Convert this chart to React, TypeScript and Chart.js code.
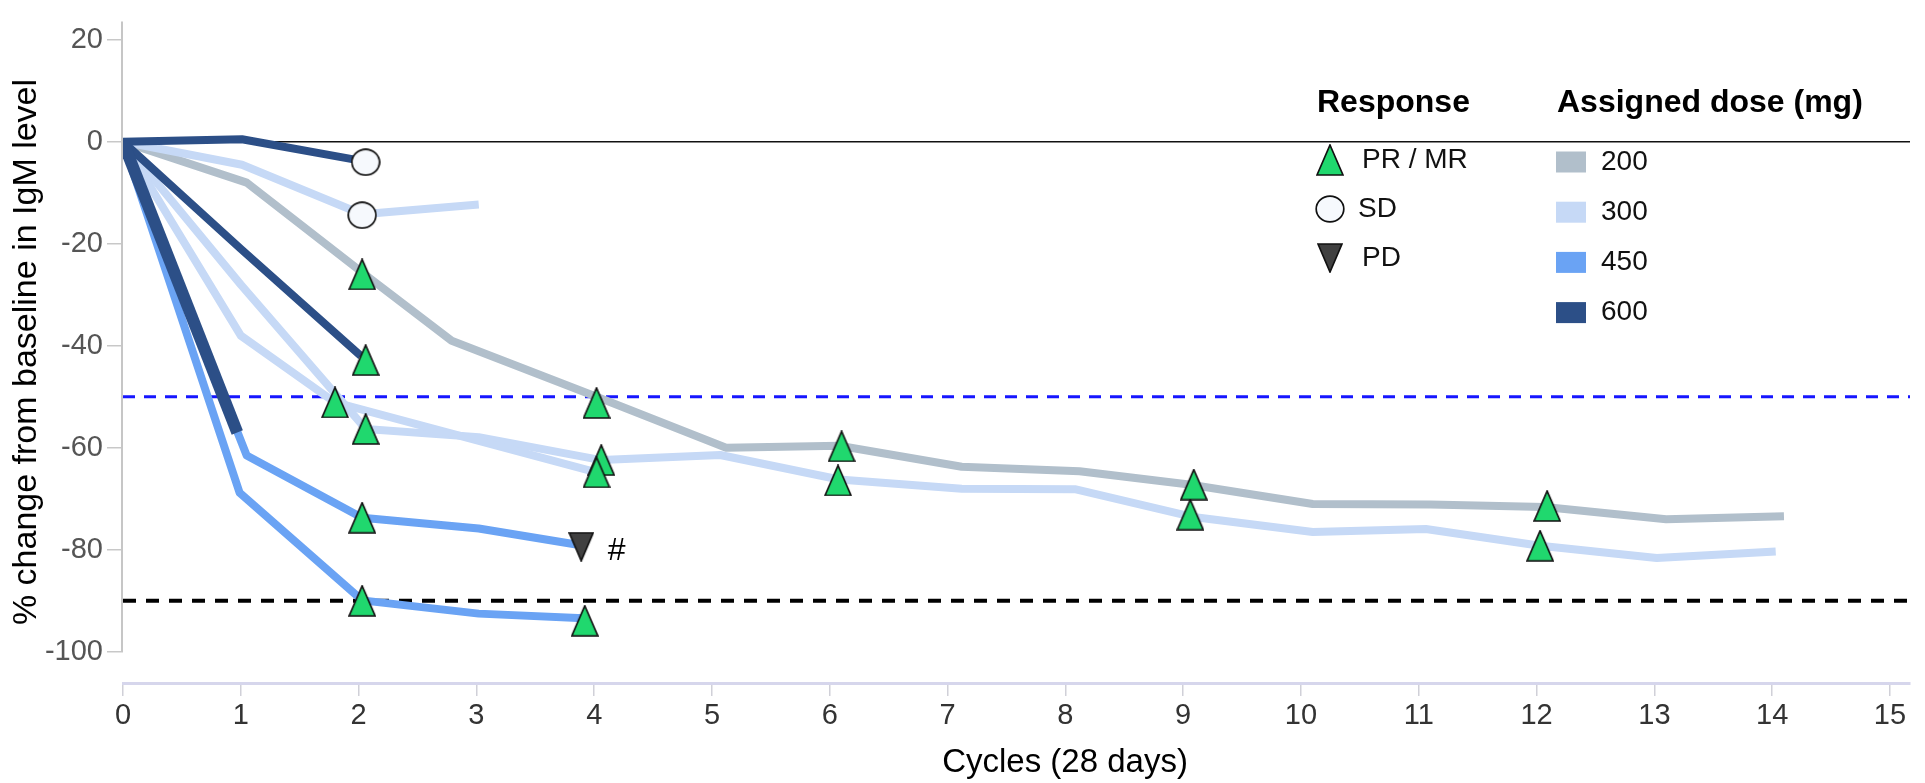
import React, { useEffect, useRef } from 'react';
import { Chart, registerables } from 'chart.js';

Chart.register(...registerables);

// ---------- data ----------
const X_TICKS = [0, 1, 2, 3, 4, 5, 6, 7, 8, 9, 10, 11, 12, 13, 14, 15];
const Y_TICKS = [-100, -80, -60, -40, -20, 0, 20];

const DOSE_LABELS = ['200', '300', '450', '600'];
const DOSE_COLORS = ['#b1bfcb', '#c6d9f6', '#6aa3f4', '#2c4f87'];
const RESPONSE_LABELS = ['PR / MR', 'SD', 'PD'];

// patient trajectories: [cycle, % change]
const D200_A = [[0, 0], [1.05, -8], [2.03, -25.6], [2.79, -39], [4.02, -50], [5.12, -60], [6.08, -59.6], [7.12, -63.7], [8.12, -64.6], [9.05, -67.2], [10.1, -71], [11.1, -71.1], [12.07, -71.6], [13.1, -74], [14.1, -73.4]];
const D300_A = [[0, 0], [1.01, -4.5], [2.03, -14.2], [3.02, -12.3]];
const D300_B = [[0, 0], [1, -38], [1.8, -51.1], [4.02, -64.8]];
const D300_C = [[0, 0], [1, -28], [2.06, -56.3], [3.02, -57.9], [4.06, -62.4], [5.07, -61.4], [6.08, -66.2], [7.12, -68], [8.08, -68.1], [9.07, -73.5], [10.1, -76.5], [11.06, -75.9], [12.03, -79.2], [13.02, -81.6], [14.03, -80.3]];
const D450_A = [[0, 0], [1.05, -61.5], [2.03, -73.7], [3.02, -75.8], [3.86, -79]];
const D450_B = [[0, 0], [0.99, -68.8], [2.03, -89.9], [3.02, -92.5], [3.91, -93.4]];
const D600_A = [[0, 0], [1.01, 0.5], [2.04, -3.8]];
const D600_B = [[0, 0], [1, -21], [2.02, -42]];
const D600_C = [[0, 0], [0.97, -57]];

// response markers
const PR_POINTS = [[2.03, -26], [2.06, -42.8], [1.8, -51.1], [2.06, -56.3], [2.03, -73.7], [2.03, -90], [4.02, -51.2], [4.06, -62.4], [4.02, -64.8], [3.92, -93.9], [6.1, -59.7], [6.07, -66.4], [9.09, -67.2], [9.06, -73.1], [12.09, -71.4], [12.03, -79.2]];
const SD_POINTS = [[2.06, -4], [2.03, -14.4]];
const PD_POINTS = [[3.89, -79.4]];
const HASH_POINT = [4.19, -80.3];

// reference levels
const REF_LEVELS = [0, -50, -90];

const FONT = "'Liberation Sans', Arial, Helvetica, sans-serif";

const toXY = (arr: number[][]) => arr.map(([x, y]) => ({ x, y }));

function makeTriangle(up: boolean, fill: string, w: number, h: number) {
  const c = document.createElement('canvas');
  c.width = w;
  c.height = h;
  const g = c.getContext('2d')!;
  g.beginPath();
  if (up) {
    g.moveTo(w / 2, 1);
    g.lineTo(w - 1, h - 1);
    g.lineTo(1, h - 1);
  } else {
    g.moveTo(1, 1);
    g.lineTo(w - 1, 1);
    g.lineTo(w / 2, h - 1);
  }
  g.closePath();
  g.fillStyle = fill;
  g.fill();
  g.lineWidth = 1.7;
  g.strokeStyle = '#111';
  g.stroke();
  return c;
}

function makeCircle(w: number, h: number) {
  const c = document.createElement('canvas');
  c.width = w;
  c.height = h;
  const g = c.getContext('2d')!;
  g.beginPath();
  g.ellipse(w / 2, h / 2, w / 2 - 1.2, h / 2 - 1.2, 0, 0, Math.PI * 2);
  g.fillStyle = '#f6f9fd';
  g.fill();
  g.lineWidth = 1.7;
  g.strokeStyle = '#111';
  g.stroke();
  return c;
}

export default function App() {
  const ref = useRef<HTMLCanvasElement>(null);

  useEffect(() => {
    document.body.style.margin = '0';
    const canvas = ref.current!;
    const triUp = makeTriangle(true, '#20d86e', 28, 32);
    const triDown = makeTriangle(false, '#404040', 26, 30);
    const circ = makeCircle(30, 28);

    const lineSet = (arr: number[][], doseIdx: number, width: number, order: number) => ({
      type: 'line' as const,
      data: toXY(arr),
      borderColor: DOSE_COLORS[doseIdx],
      borderWidth: width,
      pointRadius: 0,
      tension: 0,
      fill: false,
      borderJoinStyle: 'round' as const,
      borderCapStyle: 'butt' as const,
      order,
    });

    const markerSet = (arr: number[][], style: HTMLCanvasElement, order: number) => ({
      type: 'line' as const,
      data: toXY(arr),
      showLine: false,
      pointStyle: style,
      pointRadius: 14,
      order,
    });

    const refStyles = [
      { color: '#111111', width: 1.5, dash: [] as number[] },
      { color: '#1616ff', width: 3, dash: [12, 9] },
      { color: '#000000', width: 4, dash: [13, 10] },
    ];

    const decorPlugin = {
      id: 'decor',
      beforeDatasetsDraw(chart: any) {
        const { ctx, chartArea, scales } = chart;
        const y = scales.y;
        ctx.save();
        REF_LEVELS.forEach((lv, i) => {
          const s = refStyles[i];
          const py = y.getPixelForValue(lv);
          ctx.beginPath();
          ctx.setLineDash(s.dash);
          ctx.strokeStyle = s.color;
          ctx.lineWidth = s.width;
          ctx.moveTo(chartArea.left, py);
          ctx.lineTo(chartArea.right, py);
          ctx.stroke();
        });
        ctx.setLineDash([]);
        // partial y axis line
        ctx.beginPath();
        ctx.strokeStyle = '#c6c6c6';
        ctx.lineWidth = 2;
        ctx.moveTo(chartArea.left - 1, chartArea.top);
        ctx.lineTo(chartArea.left - 1, y.getPixelForValue(Y_TICKS[0]));
        ctx.stroke();
        ctx.restore();
      },
      afterDraw(chart: any) {
        const { ctx, scales } = chart;
        ctx.save();
        // hash annotation
        ctx.fillStyle = '#000';
        ctx.font = `32px ${FONT}`;
        ctx.textAlign = 'center';
        ctx.textBaseline = 'middle';
        ctx.fillText('#', scales.x.getPixelForValue(HASH_POINT[0]), scales.y.getPixelForValue(HASH_POINT[1]));

        // axis titles
        ctx.font = `33px ${FONT}`;
        ctx.textBaseline = 'alphabetic';
        ctx.fillText('Cycles (28 days)', 1065, 772);
        ctx.save();
        ctx.translate(27, 352);
        ctx.rotate(-Math.PI / 2);
        ctx.font = `34px ${FONT}`;
        ctx.textBaseline = 'middle';
        ctx.fillText('% change from baseline in IgM level', 0, 0);
        ctx.restore();

        // legend headers
        ctx.textAlign = 'left';
        ctx.textBaseline = 'alphabetic';
        ctx.font = `bold 32px ${FONT}`;
        ctx.fillStyle = '#000';
        ctx.fillText('Response', 1317, 112);
        ctx.fillText('Assigned dose (mg)', 1557, 112);

        // response items
        const syms = [triUp, circ, triDown];
        ctx.font = `28px ${FONT}`;
        ctx.textBaseline = 'middle';
        RESPONSE_LABELS.forEach((lab, i) => {
          const cy = 160 + i * 49;
          const s = syms[i];
          ctx.drawImage(s, 1330 - s.width / 2, cy - s.height / 2);
          ctx.fillStyle = '#111';
          ctx.fillText(lab, i === 1 ? 1358 : 1362, cy);
        });

        // dose items
        DOSE_LABELS.forEach((lab, i) => {
          const cy = 162 + i * 50.2;
          ctx.fillStyle = DOSE_COLORS[i];
          ctx.fillRect(1556, cy - 10.5, 30, 21);
          ctx.fillStyle = '#111';
          ctx.fillText(lab, 1601, cy);
        });
        ctx.restore();
      },
    };

    const chart = new Chart(canvas, {
      type: 'line',
      data: {
        datasets: [
          markerSet(PD_POINTS, triDown, 1),
          markerSet(SD_POINTS, circ, 1),
          markerSet(PR_POINTS, triUp, 2),
          lineSet(D600_C, 3, 12, 6),
          lineSet(D600_A, 3, 8, 6),
          lineSet(D600_B, 3, 8, 6),
          lineSet(D450_A, 2, 8, 7),
          lineSet(D450_B, 2, 8, 7),
          lineSet(D300_A, 1, 8, 8),
          lineSet(D300_B, 1, 8, 8),
          lineSet(D300_C, 1, 8, 8),
          lineSet(D200_A, 0, 8, 9),
        ] as any,
      },
      options: {
        responsive: false,
        animation: false,
        devicePixelRatio: 1,
        events: [],
        layout: { padding: { top: 7, right: 15, left: 0, bottom: 0 } },
        plugins: {
          legend: { display: false },
          tooltip: { enabled: false },
          title: { display: false },
        },
        scales: {
          x: {
            type: 'linear',
            min: 0,
            max: 15.17,
            afterBuildTicks(scale: any) {
              scale.ticks = X_TICKS.map((v) => ({ value: v }));
            },
            afterFit(scale: any) {
              scale.height = 100;
            },
            grid: {
              drawOnChartArea: false,
              drawTicks: true,
              tickLength: 13,
              color: '#d0d0d8',
              lineWidth: 1.5,
            },
            border: { display: true, color: '#d6d6ec', width: 3 },
            ticks: {
              color: '#333',
              font: { family: FONT, size: 29 },
              padding: 3,
              maxRotation: 0,
              autoSkip: false,
            },
          },
          y: {
            type: 'linear',
            min: -106.1,
            max: 23.6,
            afterBuildTicks(scale: any) {
              scale.ticks = Y_TICKS.map((v) => ({ value: v }));
            },
            afterFit(scale: any) {
              scale.width = 123;
            },
            grid: {
              drawOnChartArea: false,
              drawTicks: true,
              tickLength: 16,
              color: '#c8c8c8',
              lineWidth: 1.5,
            },
            border: { display: false },
            ticks: {
              color: '#555',
              font: { family: FONT, size: 29 },
              padding: 4,
              autoSkip: false,
            },
          },
        },
      } as any,
      plugins: [decorPlugin],
    });

    return () => chart.destroy();
  }, []);

  return (
    <div style={{ position: 'absolute', left: 0, top: 0, width: 1925, height: 783, background: '#fff' }}>
      <canvas ref={ref} width={1925} height={783} style={{ display: 'block', width: 1925, height: 783 }} />
    </div>
  );
}
